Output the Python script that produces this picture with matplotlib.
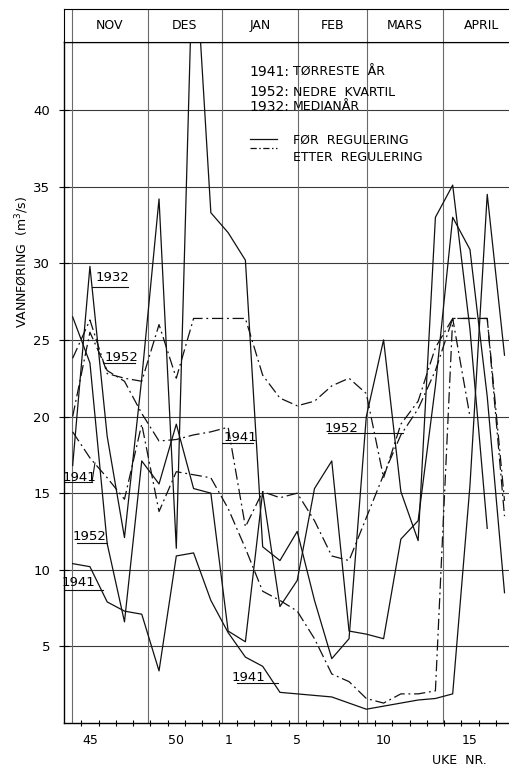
import numpy as np
import matplotlib.pyplot as plt

plt.rcParams['font.family'] = ['DejaVu Sans']
smal = ['Liberation Sans Narrow', 'DejaVu Sans']

# ukenummer langs x-aksen, uke 44 til uke 17
uke = [44, 45, 46, 47, 48, 49, 50, 51, 52, 1, 2, 3, 4, 5, 6, 7, 8, 9,
       10, 11, 12, 13, 14, 15, 16, 17]

# vannføring (m3/s) før regulering
foer_1941 = [10.4, 10.2, 7.9, 7.3, 7.1, 3.4, 10.9, 11.1, 8.0, 5.9, 4.3, 3.7, 2.0,
             1.9, 1.8, 1.7, 1.3, 0.9, 1.1, 1.3, 1.5, 1.6, 1.9, 15.5, 34.5, 24.0]
foer_1952 = [26.5, 23.5, 11.7, 6.6, 17.1, 15.6, 19.5, 15.3, 15.0, 6.0, 5.3, 15.1, 7.6,
             9.3, 15.3, 17.1, 6.0, 5.8, 5.5, 12.0, 13.2, 22.0, 33.0, 30.9, 21.3, 8.5]
foer_1932 = [16.8, 29.8, 18.7, 12.1, 22.5, 34.2, 11.4, 52.0, 33.3, 32.0, 30.2, 11.5, 10.6,
             12.5, 8.0, 4.2, 5.5, 20.0, 25.0, 15.1, 11.9, 33.0, 35.1, 25.7, 12.7, np.nan]

# vannføring (m3/s) etter regulering
etter_1941 = [19.0, 17.3, 16.0, 14.6, 19.5, 13.8, 16.4, 16.2, 16.0, 14.0, 11.4, 8.6, 8.0,
              7.3, 5.5, 3.2, 2.7, 1.6, 1.3, 1.9, 1.9, 2.1, 26.4, 20.0, np.nan, np.nan]
etter_1952 = [20.0, 25.5, 23.0, 22.3, 20.2, 18.4, 18.5, 18.8, 19.0, 19.3, 12.8, 15.1, 14.7,
              15.0, 13.2, 10.9, 10.6, 13.4, 16.2, 18.8, 20.5, 23.0, 26.4, 26.4, 26.4, 14.5]
etter_1932 = [23.8, 26.3, 22.8, 22.5, 22.3, 26.0, 22.5, 26.4, 26.4, 26.4, 26.4, 22.7, 21.2,
              20.7, 21.0, 22.0, 22.5, 21.5, 16.0, 19.5, 21.0, 24.5, 26.4, 26.4, 26.4, 13.5]

maaneder = ['NOV', 'DES', 'JAN', 'FEB', 'MARS', 'APRIL']
uke_etiketter = [45, 50, 1, 5, 10, 15]

x = np.arange(len(uke))
grenser = [-0.04, 4.36, 8.64, 13.04, 17.04, 21.44, 25.9]

fig = plt.figure(figsize=(5.09, 7.68), dpi=100)
venstre = 63.5 / 509
ax = fig.add_axes([venstre, 45 / 768, 1 - venstre, 681 / 768])
ax_m = fig.add_axes([venstre, 726 / 768, 1 - venstre, 33 / 768])

ax.set_xlim(-0.53, 25.26)
ax.set_ylim(0, 44.44)
ax_m.set_xlim(-0.53, 25.26)
ax_m.set_ylim(0, 1)

# rutenett
for v in range(5, 45, 5):
    ax.axhline(v, color='#3a3a3a', lw=0.8, zorder=1)
for g in grenser[:-1]:
    ax.axvline(g, color='#6a6a6a', lw=0.8, zorder=1)
    ax_m.axvline(g, color='#6a6a6a', lw=0.8)

stiplet = (0, (9, 3, 1.5, 3))
ax.plot(x, foer_1941, color='#111', lw=0.9, zorder=3)
ax.plot(x, foer_1952, color='#111', lw=0.9, zorder=3)
ax.plot(x, foer_1932, color='#111', lw=0.9, zorder=3)
ax.plot(x, etter_1941, color='#111', lw=0.9, ls=stiplet, zorder=3)
ax.plot(x, etter_1952, color='#111', lw=0.9, ls=stiplet, zorder=3)
ax.plot(x, etter_1932, color='#111', lw=0.9, ls=stiplet, zorder=3)

# akser
ax.spines['right'].set_visible(False)
for s in ['left', 'bottom', 'top']:
    ax.spines[s].set_linewidth(1.0)
ax.set_yticks(range(5, 45, 5))
ax.tick_params(axis='y', direction='inout', length=7, width=0.8, labelsize=9.5, pad=6)
ax.set_xticks([uke.index(u) for u in uke_etiketter])
ax.set_xticklabels([str(u) for u in uke_etiketter])
ax.set_xticks(x[:-1] + 0.5, minor=True)
ax.tick_params(axis='x', which='major', length=0, labelsize=9, pad=8)
ax.tick_params(axis='x', which='minor', direction='inout', length=5, width=0.8)

ax_m.spines['right'].set_visible(False)
ax_m.set_xticks([])
ax_m.set_yticks([])
for i, navn in enumerate(maaneder):
    ax_m.text((grenser[i] + grenser[i + 1]) / 2, 0.5, navn, ha='center', va='center', fontsize=9)

fig.text(22 / 509, 1 - 262 / 768, 'VANNFØRING  (m$^3$/s)', rotation=90,
         ha='center', va='center', fontsize=9)
fig.text(487 / 509, 1 - 760 / 768, 'UKE  NR.', ha='right', va='center', fontsize=9)

# tegnforklaring
for aar, navn, yv in [('1941:', 'TØRRESTE  ÅR', 42.48),
                      ('1952:', 'NEDRE  KVARTIL', 41.17),
                      ('1932:', 'MEDIANÅR', 40.2)]:
    ax.text(10.26, yv, aar, fontsize=10, va='center', family=smal)
    ax.text(12.75, yv, navn, fontsize=9, va='center')
ax.plot([10.26, 11.83], [38.08, 38.08], color='#111', lw=0.9)
ax.plot([10.26, 11.83], [37.54, 37.54], color='#111', lw=0.9, ls=(0, (5, 2, 1.2, 2)))
ax.text(12.75, 38.0, 'FØR  REGULERING', fontsize=9, va='center')
ax.text(12.75, 36.93, 'ETTER  REGULERING', fontsize=9, va='center')

# årstall ved kurvene
merker = [('1932', 2.33, 29.04, 1.12, 3.2, 28.45),
          ('1952', 2.8, 23.82, 1.75, 3.6, 23.49),
          ('1941', 0.42, 16.05, -0.45, 1.12, 15.73),
          ('1952', 1.0, 12.14, 0.25, 1.98, 11.75),
          ('1941', 0.36, 9.14, -0.45, 1.75, 8.68),
          ('1941', 9.69, 18.6, 8.64, 10.44, 18.27),
          ('1952', 15.59, 19.25, 14.78, 19.12, 18.92),
          ('1941', 10.15, 3.0, 9.51, 11.89, 2.61)]
for tekst, tx, ty, x0, x1, yu in merker:
    ax.text(tx, ty, tekst, ha='center', va='center', fontsize=9.5, family=smal, zorder=4)
    ax.plot([x0, x1], [yu, yu], color='#111', lw=0.8, zorder=4)
ax.plot([1.12, 1.29], [15.73, 16.97], color='#111', lw=0.8)

fig.savefig('out.png', dpi=100)
